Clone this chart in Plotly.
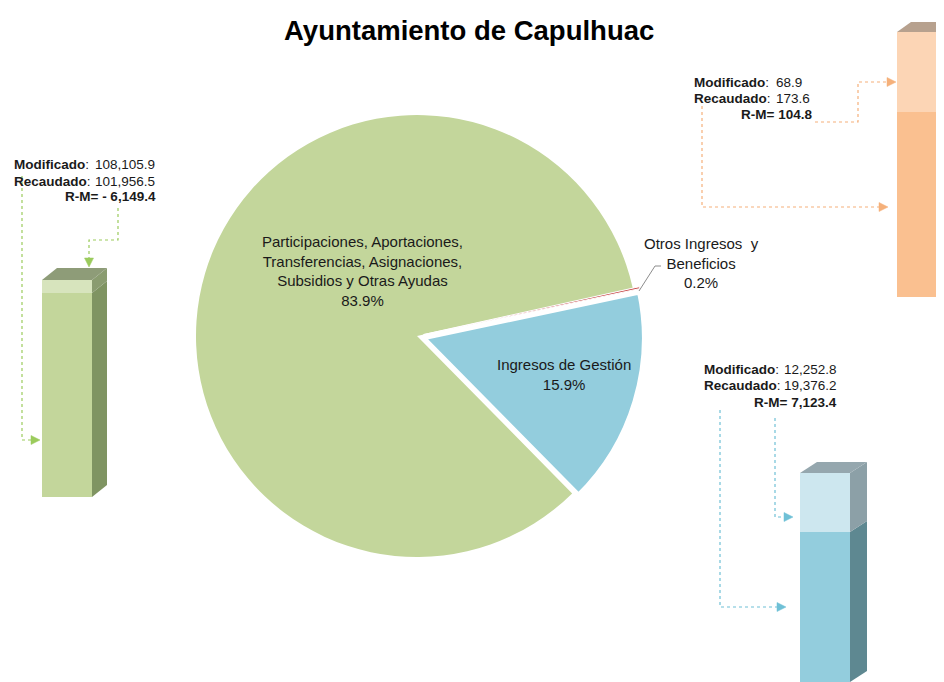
import math
import plotly.graph_objects as go

# reference canvas is 944x682; the page body has an 8px margin, so the figure is
# drawn 8px in from the top-left and sized to fit inside the window.
W, H = 944, 682
OFF = 8
FW, FH = W - OFF, H - OFF


def PX(x):
    return (x - OFF) / FW


def PY(y):
    return 1 - (y - OFF) / FH


# ---------------- data ----------------
categories = [
    "Participaciones, Aportaciones, Transferencias, Asignaciones, Subsidios y Otras Ayudas",
    "Ingresos de Gestión",
    "Otros Ingresos y Beneficios",
]
pie_labels = [
    "Participaciones, Aportaciones,<br>Transferencias, Asignaciones,<br>Subsidios y Otras Ayudas",
    "Ingresos de Gestión",
    "Otros Ingresos&nbsp;&nbsp;y<br>Beneficios",
]
modificado = [108105.9, 12252.8, 68.9]
recaudado = [101956.5, 19376.2, 173.6]
r_m = [-6149.4, 7123.4, 104.8]
pct_labels = ["83.9%", "15.9%", "0.2%"]

# ---------------- styling ----------------
FONT = "Liberation Sans, Arial, sans-serif"
TXT = "#1a1a1a"
pie_colors = ["#C3D69B", "#93CDDD", "#C8504F"]
front_main = ["#C3D69B", "#93CDDD", "#FAC090"]
front_light = ["#D7E4BD", "#CDE7EF", "#FCD5B5"]
side_main = ["#7F9462", "#5E8891", "#A67D5D"]
side_light = ["#8A9C70", "#8CA0A7", "#AD8D74"]
top_col = ["#8E9C78", "#95A7AE", "#B7A18E"]
conn_col = ["#9BCB5C", "#6FC0D6", "#F5B07A"]

# bar geometry (pixels): front x0, x1, depth dx, dy, front top, split, bottom
bar_geo = [
    dict(x0=42, x1=92, dx=15, dy=12, yt=280, ys=293, yb=497),
    dict(x0=800, x1=850, dx=17, dy=11, yt=473, ys=532, yb=682),
    dict(x0=897, x1=940, dx=14, dy=10, yt=32, ys=112, yb=297),
]

fig = go.Figure()

# ---------------- pie ----------------
order = [1, 0, 2]
cx, cy, r, pull = 417, 336, 221, 0.03
R = r * (1 + pull)
fig.add_trace(go.Pie(
    values=[recaudado[i] for i in order],
    labels=[categories[i] for i in order],
    sort=False, direction="clockwise", rotation=78,
    pull=[pull, 0, pull],
    marker=dict(colors=[pie_colors[i] for i in order],
                line=dict(color="white", width=[5, 0, 1.0])),
    textinfo="none", hoverinfo="label+percent", showlegend=False,
    domain=dict(x=[PX(cx - R), PX(cx + R)], y=[PY(cy + R), PY(cy - R)]),
))

# ---------------- 3D bars ----------------
layout_axes = {}
for i, g in enumerate(bar_geo):
    k = i + 2
    xa, ya = f"x{k}", f"y{k}"
    lower = min(modificado[i], recaudado[i])
    total = max(modificado[i], recaudado[i])
    upper = total - lower
    ppd = (g["ys"] - g["yt"]) / (math.log10(total) - math.log10(lower))
    ylog_bot = math.log10(lower) - (g["yb"] - g["ys"]) / ppd
    ylog_top = math.log10(total) + g["dy"] / ppd
    f = 10 ** (g["dy"] / ppd)
    ybot = 10 ** ylog_bot
    fw = g["x1"] - g["x0"]
    dom_x1 = min(g["x1"] + g["dx"], W)
    dxu = g["dx"] / fw

    fig.add_trace(go.Bar(x=[0], y=[lower], width=1, marker=dict(color=front_main[i], line=dict(width=0)),
                         xaxis=xa, yaxis=ya, showlegend=False, hoverinfo="skip"))
    fig.add_trace(go.Bar(x=[0], y=[upper], width=1, marker=dict(color=front_light[i], line=dict(width=0)),
                         xaxis=xa, yaxis=ya, showlegend=False, hoverinfo="skip"))
    # side faces
    fig.add_trace(go.Scatter(x=[0.5, 0.5, 0.5 + dxu, 0.5 + dxu, 0.5],
                             y=[ybot, lower, lower * f, ybot * f, ybot],
                             mode="lines", fill="toself", fillcolor=side_main[i], line=dict(width=0),
                             xaxis=xa, yaxis=ya, showlegend=False, hoverinfo="skip"))
    fig.add_trace(go.Scatter(x=[0.5, 0.5, 0.5 + dxu, 0.5 + dxu, 0.5],
                             y=[lower, total, total * f, lower * f, lower],
                             mode="lines", fill="toself", fillcolor=side_light[i], line=dict(width=0),
                             xaxis=xa, yaxis=ya, showlegend=False, hoverinfo="skip"))
    # top face
    fig.add_trace(go.Scatter(x=[-0.5, 0.5, 0.5 + dxu, -0.5 + dxu, -0.5],
                             y=[total, total, total * f, total * f, total],
                             mode="lines", fill="toself", fillcolor=top_col[i], line=dict(width=0),
                             xaxis=xa, yaxis=ya, showlegend=False, hoverinfo="skip"))

    layout_axes[f"xaxis{k}"] = dict(domain=[PX(g["x0"]), min(1, PX(dom_x1))],
                                    range=[-0.5, -0.5 + (dom_x1 - g["x0"]) / fw],
                                    visible=False, fixedrange=True, anchor=ya)
    layout_axes[f"yaxis{k}"] = dict(domain=[max(0, PY(g["yb"])), PY(g["yt"] - g["dy"])],
                                    type="log", range=[ylog_bot, ylog_top],
                                    visible=False, fixedrange=True, anchor=xa)

# ---------------- annotations ----------------
ann = []


def text(x, y, s, size=13, xanchor="left", bold=False, color=TXT):
    ann.append(dict(x=PX(x), y=PY(y), xref="paper", yref="paper", text=f"<b>{s}</b>" if bold else s,
                    showarrow=False, xanchor=xanchor, yanchor="middle",
                    font=dict(family=FONT, size=size, color=color), align="center"))


def fmt(v):
    return f"{v:,.1f}"


def fmt_rm(v):
    return ("- " if v < 0 else "") + f"{abs(v):,.1f}"


# title
ann.append(dict(x=PX(469), y=PY(30), xref="paper", yref="paper", text="<b>Ayuntamiento de Capulhuac</b>",
                showarrow=False, xanchor="center", yanchor="middle",
                font=dict(family=FONT, size=27.5, color="#000000")))

# pie labels
LS = 15
text(362, 271, pie_labels[0] + "<br>" + pct_labels[0], size=LS, xanchor="center")
text(564, 374, pie_labels[1] + "<br>" + pct_labels[1], size=LS, xanchor="center")
text(701, 263, pie_labels[2] + "<br>" + pct_labels[2], size=LS, xanchor="center")

# value blocks, same order as the data: (label x, value x, value anchor, y lines, R-M right x)
blocks = [
    dict(lx=12, vx=93, va="left", ys=(164, 181, 197), rx=158),
    dict(lx=702, vx=839, va="right", ys=(369, 385, 402), rx=839),
    dict(lx=692, vx=774, va="left", ys=(82, 98, 114), rx=814),
]
VS = 13.5
for i, b in enumerate(blocks):
    text(b["lx"], b["ys"][0], "<b>Modificado</b>:", size=VS)
    text(b["vx"], b["ys"][0], fmt(modificado[i]), size=VS, xanchor=b["va"])
    text(b["lx"], b["ys"][1], "<b>Recaudado</b>:", size=VS)
    text(b["vx"], b["ys"][1], fmt(recaudado[i]), size=VS, xanchor=b["va"])
    text(b["rx"], b["ys"][2], "R-M= " + fmt_rm(r_m[i]), size=VS, xanchor="right", bold=True)

# ---------------- connectors ----------------
shapes = []


def path(points, color, dash="dot", width=1.2):
    d = "M " + " L ".join(f"{PX(x)},{PY(y)}" for x, y in points)
    shapes.append(dict(type="path", path=d, xref="paper", yref="paper",
                       line=dict(color=color, width=width, dash=dash)))


def head(tx, ty, direction, color, L=9, h=4.5):
    if direction == "right":
        pts = [(tx - L, ty - h), (tx, ty), (tx - L, ty + h)]
    else:
        pts = [(tx - h, ty - L), (tx, ty), (tx + h, ty - L)]
    d = "M " + " L ".join(f"{PX(x)},{PY(y)}" for x, y in pts) + " Z"
    shapes.append(dict(type="path", path=d, xref="paper", yref="paper",
                       fillcolor=color, line=dict(color=color, width=0.5)))


# green
path([(118, 208), (118, 240), (89, 240), (89, 258)], conn_col[0])
head(89, 267, "down", conn_col[0])
path([(22, 176), (22, 440), (31, 440)], conn_col[0])
head(40, 440, "right", conn_col[0])
# blue
path([(775, 418), (775, 517), (784, 517)], conn_col[1])
head(793, 517, "right", conn_col[1])
path([(720, 410), (720, 607), (777, 607)], conn_col[1])
head(786, 607, "right", conn_col[1])
# orange
path([(815, 122), (858, 122), (858, 82), (887, 82)], conn_col[2])
head(896, 82, "right", conn_col[2])
path([(702, 106), (702, 207), (879, 207)], conn_col[2])
head(888, 207, "right", conn_col[2])
# leader line for small slice
path([(639, 291), (655, 266), (661, 266)], "#8C8C8C", dash="solid", width=1)

fig.update_layout(
    width=FW, height=FH,
    margin=dict(l=0, r=0, t=0, b=0),
    paper_bgcolor="white", plot_bgcolor="rgba(0,0,0,0)",
    barmode="stack", bargap=0,
    showlegend=False,
    annotations=ann, shapes=shapes,
    **layout_axes,
)

fig.write_html("out.html")
